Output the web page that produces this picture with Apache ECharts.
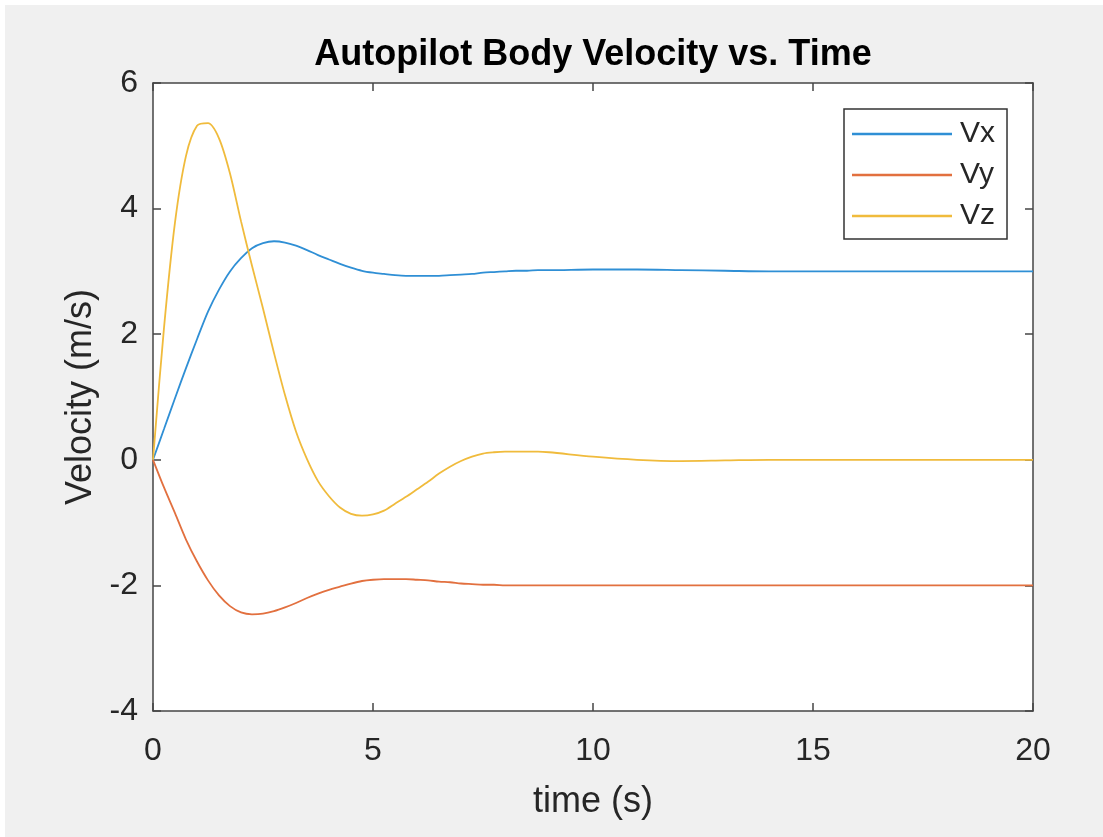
<!DOCTYPE html>
<html>
<head>
<meta charset="utf-8">
<script src="https://cdn.jsdelivr.net/npm/echarts@6/dist/echarts.min.js"></script>
<style>
  html, body { margin: 0; padding: 0; background: #ffffff; }
  #bg { position: absolute; left: 5px; top: 5px; right: 0; bottom: 0; background: #f0f0f0; }
  #chart { position: absolute; left: 0; top: 0; width: 1103px; height: 837px; }
</style>
</head>
<body>
<div id="bg"></div>
<div id="chart"></div>
<script>
// ---- data ----
const titleText = 'Autopilot Body Velocity vs. Time';
const xAxisName = 'time (s)';
const yAxisName = 'Velocity (m/s)';
const xTicks = [0, 5, 10, 15, 20];
const yTicks = [-4, -2, 0, 2, 4, 6];
const seriesNames = ['Vx', 'Vy', 'Vz'];

// sample times (s)
const time = [0, 0.25, 0.5, 0.75, 1.0, 1.25, 1.5, 1.75, 2.0, 2.25, 2.5, 2.75, 3.0, 3.25, 3.5, 3.75,
              4.0, 4.25, 4.5, 4.75, 5.0, 5.25, 5.5, 5.75, 6.0, 6.25, 6.5, 6.75, 7.0, 7.25, 7.5, 7.75,
              8.0, 8.25, 8.5, 8.75, 9.0, 10, 11, 12, 13, 14, 16, 18, 20];

const vx = [0, 0.49, 0.98, 1.46, 1.92, 2.36, 2.71, 3.0, 3.21, 3.37, 3.45, 3.48, 3.46, 3.41, 3.34, 3.26,
            3.19, 3.12, 3.06, 3.01, 2.98, 2.96, 2.94, 2.93, 2.93, 2.93, 2.93, 2.94, 2.95, 2.96, 2.98, 2.99,
            3.0, 3.01, 3.01, 3.02, 3.02, 3.03, 3.03, 3.02, 3.01, 3.0, 3.0, 3.0, 3.0];

const vy = [0, -0.44, -0.85, -1.27, -1.62, -1.92, -2.16, -2.33, -2.43, -2.46, -2.45, -2.41, -2.35, -2.28, -2.20, -2.13,
            -2.07, -2.02, -1.97, -1.93, -1.91, -1.90, -1.90, -1.90, -1.91, -1.92, -1.94, -1.95, -1.97, -1.98, -1.99, -1.99,
            -2.0, -2.0, -2.0, -2.0, -2.0, -2.0, -2.0, -2.0, -2.0, -2.0, -2.0, -2.0, -2.0];

const vz = [0, 2.1, 3.78, 4.84, 5.32, 5.36, 5.12, 4.56, 3.80, 3.09, 2.41, 1.70, 1.03, 0.45, 0.01, -0.34,
            -0.58, -0.76, -0.86, -0.89, -0.87, -0.81, -0.70, -0.59, -0.47, -0.35, -0.22, -0.11, -0.02, 0.05, 0.10, 0.12,
            0.13, 0.13, 0.13, 0.13, 0.12, 0.05, 0.0, -0.02, -0.01, 0, 0, 0, 0];

const colors = ['#2f8fd5', '#e2703f', '#f0bb3c'];

// ---- build ----
const pair = (t, v) => t.map((x, i) => [x, v[i]]);
const seriesData = [pair(time, vx), pair(time, vy), pair(time, vz)];

const axisColor = '#454545';
const textColor = '#262626';
const font = 'Liberation Sans, Arial, Helvetica, sans-serif';

const chart = echarts.init(document.getElementById('chart'), null, { renderer: 'canvas' });

const baseX = {
  type: 'value', min: xTicks[0], max: xTicks[xTicks.length - 1], interval: 5,
  axisLine: { show: true, onZero: false, lineStyle: { color: axisColor, width: 1.5 } },
  axisTick: { show: true, inside: true, length: 8, lineStyle: { color: axisColor, width: 1.5 } },
  splitLine: { show: false }
};
const baseY = {
  type: 'value', min: yTicks[0], max: yTicks[yTicks.length - 1], interval: 2,
  axisLine: { show: true, onZero: false, lineStyle: { color: axisColor, width: 1.5 } },
  axisTick: { show: true, inside: true, length: 8, lineStyle: { color: axisColor, width: 1.5 } },
  splitLine: { show: false }
};

chart.setOption({
  animation: false,
  backgroundColor: 'transparent',
  color: colors,
  title: {
    text: titleText,
    left: 593, top: 37, textAlign: 'center', padding: 0,
    textStyle: { fontFamily: font, fontSize: 36, fontWeight: 'bold', color: '#000000' }
  },
  grid: {
    left: 153, right: 70, top: 83, bottom: 126,
    show: true, backgroundColor: '#ffffff', borderWidth: 0
  },
  legend: {
    data: seriesNames.map(n => ({ name: n, icon: 'rect' })),
    orient: 'vertical',
    left: 844, top: 109,
    padding: [10, 12, 8, 8],
    itemWidth: 100, itemHeight: 2.5, itemGap: 11,
    backgroundColor: '#ffffff',
    borderColor: '#333333', borderWidth: 1.5, borderRadius: 0,
    textStyle: { fontFamily: font, fontSize: 30, lineHeight: 30, color: textColor, padding: [0, 0, 0, 3] }
  },
  xAxis: [
    Object.assign({}, baseX, {
      position: 'bottom',
      name: xAxisName, nameLocation: 'middle', nameGap: 73,
      nameTextStyle: { fontFamily: font, fontSize: 36, color: textColor },
      axisLabel: { show: true, margin: 24, fontFamily: font, fontSize: 32, color: textColor }
    }),
    Object.assign({}, baseX, { position: 'top', axisLabel: { show: false } })
  ],
  yAxis: [
    Object.assign({}, baseY, {
      position: 'left',
      name: yAxisName, nameLocation: 'middle', nameGap: 54,
      nameTextStyle: { fontFamily: font, fontSize: 36, color: textColor },
      axisLabel: { show: true, margin: 15, fontFamily: font, fontSize: 32, color: textColor }
    }),
    Object.assign({}, baseY, { position: 'right', axisLabel: { show: false } })
  ],
  series: seriesNames.map((name, i) => ({
    name: name,
    type: 'line',
    xAxisIndex: 0, yAxisIndex: 0,
    data: seriesData[i],
    symbol: 'none',
    smooth: 0.3,
    lineStyle: { width: 1.8, color: colors[i] },
    itemStyle: { color: colors[i] }
  }))
});
</script>
</body>
</html>
